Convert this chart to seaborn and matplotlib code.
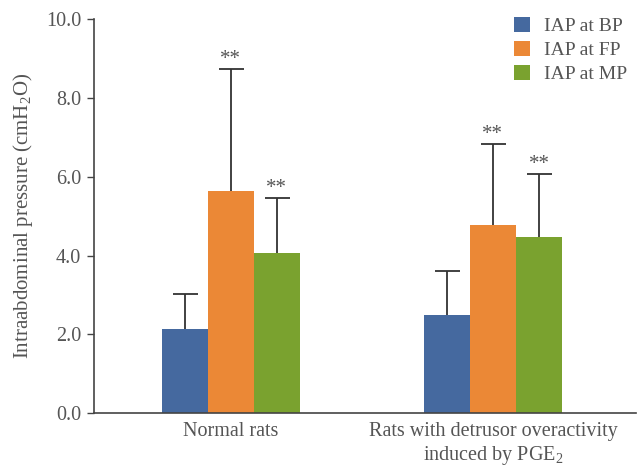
import pandas as pd
import seaborn as sns
import matplotlib.pyplot as plt
import numpy as np

# values
groups = ['Normal rats', 'Rats with detrusor overactivity\ninduced by PGE$_2$']
series = ['IAP at BP', 'IAP at FP', 'IAP at MP']
means = {
    'IAP at BP': [2.13, 2.49],
    'IAP at FP': [5.63, 4.77],
    'IAP at MP': [4.06, 4.47],
}
sds = {
    'IAP at BP': [0.89, 1.11],
    'IAP at FP': [3.10, 2.06],
    'IAP at MP': [1.40, 1.60],
}
stars = {
    'IAP at BP': ['', ''],
    'IAP at FP': ['**', '**'],
    'IAP at MP': ['**', '**'],
}
colors = ['#45699f', '#eb8836', '#7aa22f']

sns.set_style('white')
plt.rcParams['font.family'] = ['Liberation Serif', 'DejaVu Serif']
plt.rcParams['mathtext.fontset'] = 'custom'
plt.rcParams['mathtext.rm'] = 'Liberation Serif'
plt.rcParams['mathtext.it'] = 'Liberation Serif:italic'

rows = []
for s in series:
    for i, g in enumerate(groups):
        rows.append({'group': g, 'series': s, 'value': means[s][i],
                     'sd': sds[s][i], 'star': stars[s][i]})
df = pd.DataFrame(rows)

fig = plt.figure(figsize=(6.38, 4.76), dpi=100)
ax = fig.add_axes([0.147, 0.132, 0.850, 0.828])

sns.barplot(data=df, x='group', y='value', hue='series', palette=colors,
            width=0.527, errorbar=None, saturation=1, ax=ax, linewidth=0)

# error bars (upper only) and significance stars
text_col = '#555555'
for cont, s in zip(ax.containers, series):
    sub = df[df['series'] == s]
    for bar, (_, r) in zip(cont, sub.iterrows()):
        xc = bar.get_x() + bar.get_width() / 2
        top = r['value'] + r['sd']
        eb = ax.errorbar(xc, r['value'], yerr=[[0], [r['sd']]], fmt='none',
                         ecolor='#333333', elinewidth=1.3, capsize=9, capthick=1.3,
                         zorder=1)
        # keep only the upper cap
        eb[1][0].set_visible(False)
        if r['star']:
            ax.text(xc, top + 0.0, r['star'], ha='center', va='bottom',
                    fontsize=15, color=text_col)

ax.set_ylim(0, 10)
ax.set_xlim(-0.523, 1.546)
ax.set_yticks(np.arange(0, 10.1, 2))
ax.set_yticklabels([f'{v:.1f}' for v in np.arange(0, 10.1, 2)])
ax.set_xlabel('')
ax.set_ylabel('Intraabdominal pressure (cmH$_2$O)', fontsize=15, color=text_col, labelpad=8)

for side in ['top', 'right']:
    ax.spines[side].set_visible(False)
for side in ['left', 'bottom']:
    ax.spines[side].set_color('#444444')
    ax.spines[side].set_linewidth(1.2)

ax.tick_params(axis='y', direction='out', length=5, width=1, color='#444444',
               labelsize=14.5, labelcolor=text_col, left=True, pad=4)
ax.tick_params(axis='x', length=0, labelsize=14.5, labelcolor=text_col, pad=6)

leg = ax.legend(loc='upper right', bbox_to_anchor=(1.015, 1.05), frameon=False,
                fontsize=14, handlelength=0.8, handleheight=0.8,
                handletextpad=0.7, labelspacing=0.3)
for t in leg.get_texts():
    t.set_color(text_col)

plt.savefig('out.png', dpi=100)
